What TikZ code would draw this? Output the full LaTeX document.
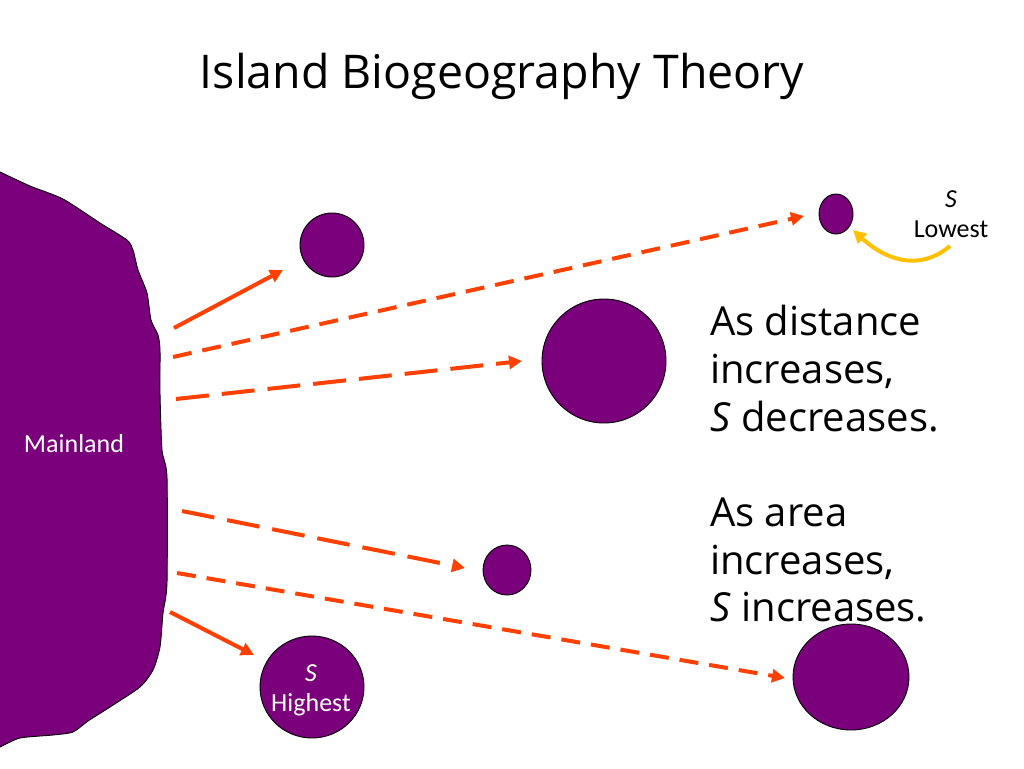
\documentclass[tikz,border=0pt]{standalone}
\usepackage{fontspec}
\setmainfont{Open Sans}
\newfontfamily\carlitofont{Carlito}
\usetikzlibrary{arrows.meta}
\definecolor{isle}{RGB}{123,0,123}
\definecolor{arr}{RGB}{255,64,0}
\definecolor{yel}{RGB}{255,192,0}
\begin{document}
\begin{tikzpicture}[x=1pt,y=-1pt,
  island/.style={draw=black,line width=0.9pt,fill=isle},
  link/.style={draw=arr,line width=4pt,-{Triangle[length=13pt,width=13pt]}},
  shortdash/.style={dash pattern=on 19pt off 11pt},
  longdash/.style={dash pattern=on 33pt off 13pt},
  small/.style={font=\carlitofont\fontsize{26}{30}\selectfont,align=center,inner sep=0pt},
  big/.style={font=\fontsize{40}{47.7}\selectfont,align=left,anchor=north west,inner sep=0pt}]
\useasboundingbox (0,0) rectangle (1024,768);
% mainland
\draw[island] plot[smooth,tension=0.4] coordinates {(-5,170) (0,172) (30,186) (63,199) (100,223) (127,240) (133,250) (138,270) (147,293) (151,320) (158,335) (160,350) (160,393) (162,450) (167,477) (167,583) (163,613) (160,647) (153,670) (140,687) (110,707) (88,721) (73,732) (53,735) (20,738) (0,747) (-5,750)} -- cycle;
\node[small,text=white] (ml) at (74,444) {Mainland};
% islands
\draw[island] (332,245) circle [radius=32];
\draw[island] (836,214) ellipse [x radius=17,y radius=20];
\draw[island] (604,361) circle [radius=62];
\draw[island] (507,570) ellipse [x radius=24,y radius=25];
\draw[island] (851,677) ellipse [x radius=58,y radius=53];
\draw[island] (312,687) ellipse [x radius=52,y radius=51];
\node[small,text=white] (hi) at (311,690) {\itshape S\\Highest};
\node[small] (lo) at (951,214) {\itshape S\\Lowest};
% arrow endpoints
\coordinate (s1) at (174,328); \coordinate (e1) at (283,270);
\coordinate (s2) at (173,357); \coordinate (e2) at (804,216);
\coordinate (s3) at (176,399); \coordinate (e3) at (522,361);
\coordinate (s4) at (182,511); \coordinate (e4) at (465,568);
\coordinate (s5) at (177,573); \coordinate (e5) at (785,678);
\coordinate (s6) at (170,612); \coordinate (e6) at (254,655);
\coordinate (s7) at (950,246); \coordinate (e7) at (853,230);
\draw[link] (s1) -- (e1);
\draw[link,shortdash] (s2) -- (e2);
\draw[link,longdash] (s3) -- (e3);
\draw[link,longdash] (s4) -- (e4);
\draw[link,shortdash] (s5) -- (e5);
\draw[link] (s6) -- (e6);
\draw[draw=yel,line width=4pt,-{Triangle[length=13pt,width=13pt]}] (s7) .. controls (915,275) and (880,255) .. (e7);
% texts
\node[font=\fontsize{46.5}{52}\selectfont,inner sep=0pt] (title) at (502,76) {Island Biogeography Theory};
\node[big] (t1) at (710,305) {As distance\\increases,\\\textit{S} decreases.\\[47.7pt]As area\\increases,\\\textit{S} increases.};
\end{tikzpicture}
\end{document}
